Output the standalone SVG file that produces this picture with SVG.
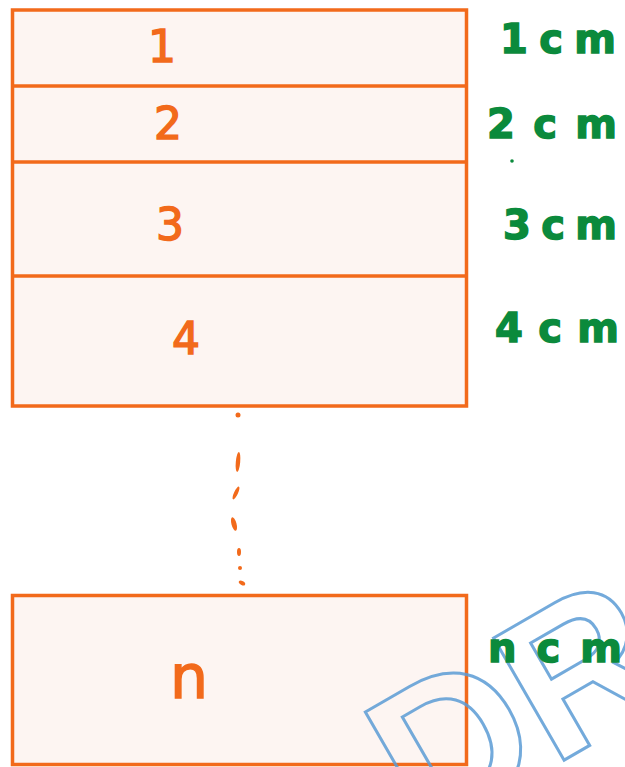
<svg xmlns="http://www.w3.org/2000/svg" width="625" height="767" viewBox="0 0 625 767">
<style>
.box{fill:#fdf5f2;stroke:#f26a1b;stroke-width:3.5}
.div{stroke:#f26a1b;stroke-width:3.5}
.num{fill:#f26a1b;stroke:#f26a1b;stroke-width:1.5;font-family:"DejaVu Sans",sans-serif;font-size:44px;text-anchor:middle}
.cm{fill:#0b8a3c;stroke:#0b8a3c;stroke-width:1.5;font-family:"DejaVu Sans",sans-serif;font-size:40px;font-weight:bold}
.dot{fill:#f26a1b}
.wm{fill:none;stroke:#5b9bd5;stroke-width:3;stroke-opacity:0.85;font-family:"Liberation Sans",sans-serif;font-weight:bold;font-size:205px}
</style>
<rect width="625" height="767" fill="#ffffff"/>
<g id="stack">
  <rect class="box" x="12.5" y="10" width="454" height="396"/>
  <line class="div" x1="12.5" y1="86" x2="466.5" y2="86"/>
  <line class="div" x1="12.5" y1="162" x2="466.5" y2="162"/>
  <line class="div" x1="12.5" y1="276" x2="466.5" y2="276"/>
</g>
<g id="cell1"><text class="num" x="162" y="62">1</text></g>
<g id="cell2"><text class="num" x="168" y="139">2</text></g>
<g id="cell3"><text class="num" x="170" y="240">3</text></g>
<g id="cell4"><text class="num" x="186" y="354">4</text></g>
<g id="celln">
  <rect class="box" x="12.5" y="595.5" width="454" height="169"/>
  <text class="num" x="189" y="698" style="font-size:60px">n</text>
</g>
<g id="connectors">
  <circle class="dot" cx="238" cy="415" r="2.5"/>
  <ellipse class="dot" cx="238" cy="462" rx="2.2" ry="10" transform="rotate(5 238 462)"/>
  <ellipse class="dot" cx="236" cy="493" rx="2" ry="7" transform="rotate(25 236 493)"/>
  <ellipse class="dot" cx="234" cy="524" rx="2.5" ry="7" transform="rotate(-15 234 524)"/>
  <ellipse class="dot" cx="239" cy="552" rx="2" ry="4"/>
  <circle class="dot" cx="240" cy="568" r="2"/>
  <ellipse class="dot" cx="242" cy="583" rx="3.5" ry="2" transform="rotate(30 242 583)"/>
</g>
<g id="watermark">
  <text class="wm" x="424" y="841" transform="rotate(-30 424 841)">DR</text>
</g>
<g id="labels">
  <text class="cm" x="500" y="53" textLength="116" lengthAdjust="spacing">1cm</text>
  <text class="cm" x="487" y="138" textLength="130" lengthAdjust="spacing">2cm</text>
  <text class="cm" x="503" y="239" textLength="114" lengthAdjust="spacing">3cm</text>
  <text class="cm" x="495" y="342" textLength="124" lengthAdjust="spacing">4cm</text>
  <text class="cm" x="488" y="662" textLength="134" lengthAdjust="spacing">ncm</text>
  <circle cx="512" cy="161" r="1.8" fill="#0b8a3c"/>
</g>
</svg>
